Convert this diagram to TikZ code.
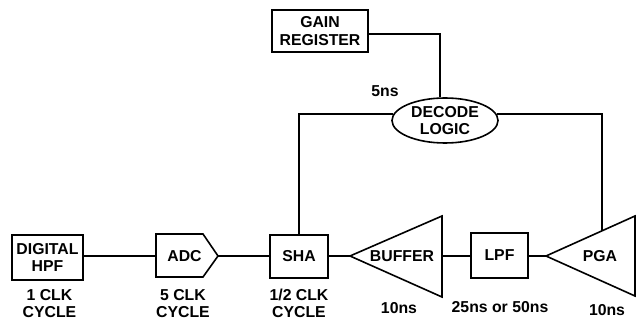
\documentclass[tikz,border=0pt]{standalone}
\usepackage{fontspec}
\setmainfont{Liberation Sans}
\usetikzlibrary{shapes.geometric,calc}
\begin{document}
\begin{tikzpicture}[x=1pt,y=-1pt,
  every node/.style={font=\bfseries\fontsize{15.8}{17.6}\selectfont, align=center, inner sep=0pt},
  blk/.style={draw, line width=1.6pt, rectangle},
  wire/.style={line width=1.5pt},
  tri/.style={line width=1.6pt, line join=miter}]
\useasboundingbox (0,0) rectangle (637,320);

% boxes
\node[blk, minimum width=71pt, minimum height=45pt] (hpf) at (47.5,257.5) {DIGITAL\\HPF};
\node[blk, minimum width=58pt, minimum height=43pt] (sha) at (299,256.5) {SHA};
\node[blk, minimum width=57pt, minimum height=45pt] (lpf) at (499.5,255.5) {LPF};
\node[blk, minimum width=96pt, minimum height=42pt] (gain) at (320,31) {GAIN\\REGISTER};
\node[draw, ellipse, line width=1.6pt, minimum width=106pt, minimum height=45pt] (decode) at (445,120.5) {DECODE\\LOGIC};

% ADC pentagon
\coordinate (adcW) at (156,256);
\coordinate (adcT) at (218,256);
\draw[tri] (156,234) -- (203,234) -- (adcT) -- (203,277) -- (156,277) -- cycle;
\node (adc) at (184.5,256) {ADC};

% BUFFER triangle
\coordinate (bufT) at (350,256);
\coordinate (bufR) at (442,256);
\draw[tri] (bufT) -- (442,216) -- (442,297) -- cycle;
\node (buffer) at (402,256) {BUFFER};

% PGA triangle
\coordinate (pgaT) at (546,256);
\coordinate (pgaTop) at (602,230.8);
\draw[tri] (pgaT) -- (635,216) -- (635,296) -- cycle;
\node (pga) at (600,256) {PGA};

% signal chain wires
\draw[wire] (hpf.east |- adcW) -- (adcW);
\draw[wire] (adcT) -- (adcT -| sha.west);
\draw[wire] (sha.east |- bufT) -- (bufT);
\draw[wire] (bufR) -- (bufR -| lpf.west);
\draw[wire] (lpf.east |- pgaT) -- (pgaT);

% control wires
\coordinate (gj) at (440,34);
\draw[wire] (gain.east |- gj) -- (gj) -- (gj |- decode.north);
\draw[wire] (sha.north) |- (decode.173);
\draw[wire] (pgaTop) |- (decode.7);

% labels
\node (l1) at (49.5,303.5) {1 CLK\\CYCLE};
\node (l2) at (183,303.5) {5 CLK\\CYCLE};
\node (l3) at (299,303.5) {1/2 CLK\\CYCLE};
\node (l4) at (399,308) {10ns};
\node (l5) at (500,307) {25ns or 50ns};
\node (l6) at (607,310) {10ns};
\node (l7) at (385,91) {5ns};
\end{tikzpicture}
\end{document}
